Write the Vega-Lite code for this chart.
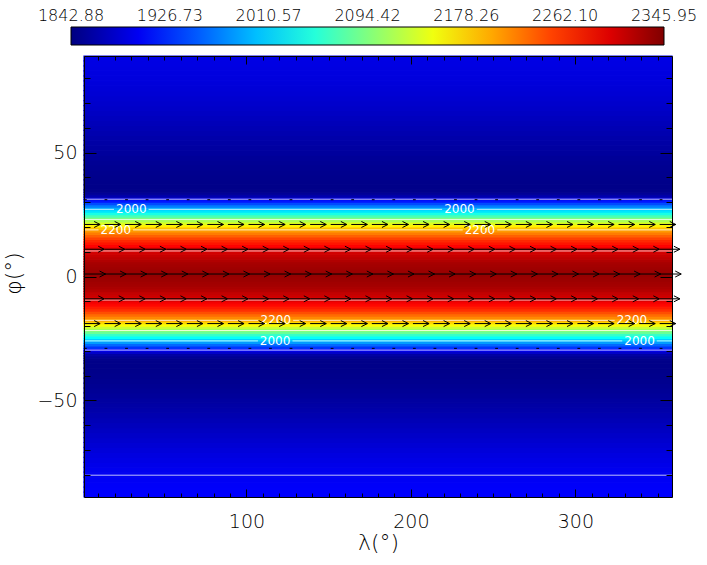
{
"$schema": "https://vega.github.io/schema/vega-lite/v6.json",
"width": 588, "height": 441,
"autosize": "none",
"padding": {"left": 84, "top": 56, "right": 35, "bottom": 68},
"background": "white",
"config": {
  "font": "DejaVu Sans",
  "view": {"stroke": null},
  "axis": {"tickColor": "#000", "domainColor": "#000", "labelColor": "#000", "titleColor": "#000", "labelFont": "DejaVu Sans", "titleFont": "DejaVu Sans", "labelFontWeight": 200, "titleFontWeight": 200, "grid": false, "zindex": 2, "tickWidth": 1, "domainWidth": 1},
  "legend": {"labelFont": "DejaVu Sans", "labelColor": "#000", "labelFontWeight": 200}
},
"datasets": {
"field": [
{"a":-89,"b":-87,"v":1905},{"a":-87,"b":-85,"v":1904},{"a":-85,"b":-83,"v":1903},{"a":-83,"b":-81,"v":1901.5},{"a":-81,"b":-79,"v":1900},{"a":-79,"b":-77,"v":1898},{"a":-77,"b":-75,"v":1895.5},{"a":-75,"b":-73,"v":1893},{"a":-73,"b":-71,"v":1890.5},{"a":-71,"b":-69,"v":1887.5},{"a":-69,"b":-67,"v":1884.5},{"a":-67,"b":-65,"v":1881.5},{"a":-65,"b":-63,"v":1878.5},{"a":-63,"b":-61,"v":1875.5},{"a":-61,"b":-59,"v":1872.5},{"a":-59,"b":-57,"v":1869.5},{"a":-57,"b":-55,"v":1866.5},{"a":-55,"b":-53,"v":1863.5},{"a":-53,"b":-51,"v":1861},{"a":-51,"b":-49,"v":1858.5},{"a":-49,"b":-47,"v":1856},{"a":-47,"b":-45,"v":1854},{"a":-45,"b":-43,"v":1852},{"a":-43,"b":-41,"v":1850.5},{"a":-41,"b":-39,"v":1849},{"a":-39,"b":-37,"v":1848},{"a":-37,"b":-35,"v":1847.5},
{"a":-35,"b":-34,"v":1847.5},{"a":-34,"b":-33,"v":1848},{"a":-33,"b":-32,"v":1852.3},{"a":-32,"b":-31,"v":1860.2},{"a":-31,"b":-30,"v":1878.6},{"a":-30,"b":-29,"v":1906.4},{"a":-29,"b":-28,"v":1932.1},{"a":-28,"b":-27,"v":1957.7},{"a":-27,"b":-26,"v":1983.3},{"a":-26,"b":-25,"v":2008.6},{"a":-25,"b":-24,"v":2033.3},{"a":-24,"b":-23,"v":2058.0},{"a":-23,"b":-22,"v":2082.7},{"a":-22,"b":-21,"v":2107.1},{"a":-21,"b":-20,"v":2130.6},{"a":-20,"b":-19,"v":2154.1},{"a":-19,"b":-18,"v":2177.6},{"a":-18,"b":-17,"v":2200.7},{"a":-17,"b":-16,"v":2215.3},{"a":-16,"b":-15,"v":2229.9},{"a":-15,"b":-14,"v":2244.5},{"a":-14,"b":-13,"v":2259.1},{"a":-13,"b":-12,"v":2269.4},{"a":-12,"b":-11,"v":2278.7},{"a":-11,"b":-10,"v":2288.0},{"a":-10,"b":-9,"v":2297.2},{"a":-9,"b":-8,"v":2303.7},{"a":-8,"b":-7,"v":2309.0},{"a":-7,"b":-6,"v":2314.3},{"a":-6,"b":-5,"v":2319.6},{"a":-5,"b":-4,"v":2324.9},{"a":-4,"b":-3,"v":2327.6},{"a":-3,"b":-2,"v":2329.6},{"a":-2,"b":-1,"v":2331.6},{"a":-1,"b":0,"v":2333.6},
{"a":0,"b":1,"v":2335.6},{"a":1,"b":2,"v":2334.4},{"a":2,"b":3,"v":2332.4},{"a":3,"b":4,"v":2330.4},{"a":4,"b":5,"v":2328.4},{"a":5,"b":6,"v":2326.4},{"a":6,"b":7,"v":2321.8},{"a":7,"b":8,"v":2316.4},{"a":8,"b":9,"v":2311.1},{"a":9,"b":10,"v":2305.8},{"a":10,"b":11,"v":2300.5},{"a":11,"b":12,"v":2291.7},{"a":12,"b":13,"v":2282.4},{"a":13,"b":14,"v":2273.1},{"a":14,"b":15,"v":2263.9},{"a":15,"b":16,"v":2250.3},{"a":16,"b":17,"v":2235.7},{"a":17,"b":18,"v":2221.2},{"a":18,"b":19,"v":2206.6},{"a":19,"b":20,"v":2187.1},{"a":20,"b":21,"v":2163.5},{"a":21,"b":22,"v":2140.0},{"a":22,"b":23,"v":2116.5},{"a":23,"b":24,"v":2092.6},{"a":24,"b":25,"v":2067.9},{"a":25,"b":26,"v":2043.2},{"a":26,"b":27,"v":2018.5},{"a":27,"b":28,"v":1993.6},{"a":28,"b":29,"v":1968.0},{"a":29,"b":30,"v":1942.3},{"a":30,"b":31,"v":1916.7},{"a":31,"b":32,"v":1890.0},{"a":32,"b":33,"v":1865.8},{"a":33,"b":34,"v":1854.4},{"a":34,"b":35,"v":1849.1},
{"a":35,"b":37,"v":1847.5},{"a":37,"b":39,"v":1848},{"a":39,"b":41,"v":1849},{"a":41,"b":43,"v":1850},{"a":43,"b":45,"v":1851.5},{"a":45,"b":47,"v":1853},{"a":47,"b":49,"v":1855},{"a":49,"b":51,"v":1857},{"a":51,"b":53,"v":1859},{"a":53,"b":55,"v":1861},{"a":55,"b":57,"v":1863.5},{"a":57,"b":59,"v":1866},{"a":59,"b":61,"v":1868.5},{"a":61,"b":63,"v":1871},{"a":63,"b":65,"v":1873.5},{"a":65,"b":67,"v":1876},{"a":67,"b":69,"v":1878.5},{"a":69,"b":71,"v":1880.5},{"a":71,"b":73,"v":1882.5},{"a":73,"b":75,"v":1884.5},{"a":75,"b":77,"v":1886},{"a":77,"b":79,"v":1887.5},{"a":79,"b":81,"v":1889},{"a":81,"b":83,"v":1890},{"a":83,"b":85,"v":1891},{"a":85,"b":87,"v":1892},{"a":87,"b":89,"v":1892.5}
],
"cont": [
{"lat":31.2,"a":1.25,"b":358.75},{"lat":-29.7,"a":1.25,"b":358.75},{"lat":-80.2,"a":1.25,"b":358.75},
{"lat":27.1,"a":1.25,"b":19.5},{"lat":27.1,"a":40.5,"b":219},{"lat":27.1,"a":240,"b":358.75},
{"lat":-26.0,"a":1.25,"b":107},{"lat":-26.0,"a":128,"b":328.5},{"lat":-26.0,"a":349.5,"b":358.75},
{"lat":23.0,"a":1.25,"b":358.75},{"lat":-21.8,"a":1.25,"b":358.75},
{"lat":18.8,"a":1.25,"b":10.1},{"lat":18.8,"a":31.1,"b":231.5},{"lat":18.8,"a":252.5,"b":358.75},
{"lat":-17.7,"a":1.25,"b":107.4},{"lat":-17.7,"a":128.4,"b":323.9},{"lat":-17.7,"a":344.9,"b":358.75},
{"lat":10.3,"a":1.25,"b":358.75},{"lat":-9.5,"a":1.25,"b":358.75}
],
"clab": [
{"lat":27.1,"lon":30,"t":"2000"},{"lat":27.1,"lon":229.5,"t":"2000"},
{"lat":18.8,"lon":20.6,"t":"2200"},{"lat":18.8,"lon":242,"t":"2200"},
{"lat":-17.7,"lon":117.9,"t":"2200"},{"lat":-17.7,"lon":334.4,"t":"2200"},
{"lat":-26.0,"lon":117.4,"t":"2000"},{"lat":-26.0,"lon":339,"t":"2000"}
],
"arrows": [
{"la":1,"x0":1.25,"x1":14.35},{"la":1,"x0":13.75,"x1":26.85},{"la":1,"x0":26.25,"x1":39.35},{"la":1,"x0":38.75,"x1":51.85},{"la":1,"x0":51.25,"x1":64.35},{"la":1,"x0":63.75,"x1":76.85},{"la":1,"x0":76.25,"x1":89.35},{"la":1,"x0":88.75,"x1":101.85},{"la":1,"x0":101.25,"x1":114.35},{"la":1,"x0":113.75,"x1":126.85},{"la":1,"x0":126.25,"x1":139.35},{"la":1,"x0":138.75,"x1":151.85},{"la":1,"x0":151.25,"x1":164.35},{"la":1,"x0":163.75,"x1":176.85},{"la":1,"x0":176.25,"x1":189.35},{"la":1,"x0":188.75,"x1":201.85},{"la":1,"x0":201.25,"x1":214.35},{"la":1,"x0":213.75,"x1":226.85},{"la":1,"x0":226.25,"x1":239.35},{"la":1,"x0":238.75,"x1":251.85},{"la":1,"x0":251.25,"x1":264.35},{"la":1,"x0":263.75,"x1":276.85},{"la":1,"x0":276.25,"x1":289.35},{"la":1,"x0":288.75,"x1":301.85},{"la":1,"x0":301.25,"x1":314.35},{"la":1,"x0":313.75,"x1":326.85},{"la":1,"x0":326.25,"x1":339.35},{"la":1,"x0":338.75,"x1":351.85},{"la":1,"x0":351.25,"x1":364.35},
{"la":11,"x0":1.25,"x1":13.55},{"la":11,"x0":13.75,"x1":26.05},{"la":11,"x0":26.25,"x1":38.55},{"la":11,"x0":38.75,"x1":51.05},{"la":11,"x0":51.25,"x1":63.55},{"la":11,"x0":63.75,"x1":76.05},{"la":11,"x0":76.25,"x1":88.55},{"la":11,"x0":88.75,"x1":101.05},{"la":11,"x0":101.25,"x1":113.55},{"la":11,"x0":113.75,"x1":126.05},{"la":11,"x0":126.25,"x1":138.55},{"la":11,"x0":138.75,"x1":151.05},{"la":11,"x0":151.25,"x1":163.55},{"la":11,"x0":163.75,"x1":176.05},{"la":11,"x0":176.25,"x1":188.55},{"la":11,"x0":188.75,"x1":201.05},{"la":11,"x0":201.25,"x1":213.55},{"la":11,"x0":213.75,"x1":226.05},{"la":11,"x0":226.25,"x1":238.55},{"la":11,"x0":238.75,"x1":251.05},{"la":11,"x0":251.25,"x1":263.55},{"la":11,"x0":263.75,"x1":276.05},{"la":11,"x0":276.25,"x1":288.55},{"la":11,"x0":288.75,"x1":301.05},{"la":11,"x0":301.25,"x1":313.55},{"la":11,"x0":313.75,"x1":326.05},{"la":11,"x0":326.25,"x1":338.55},{"la":11,"x0":338.75,"x1":351.05},{"la":11,"x0":351.25,"x1":363.55},
{"la":-9,"x0":1.25,"x1":13.55},{"la":-9,"x0":13.75,"x1":26.05},{"la":-9,"x0":26.25,"x1":38.55},{"la":-9,"x0":38.75,"x1":51.05},{"la":-9,"x0":51.25,"x1":63.55},{"la":-9,"x0":63.75,"x1":76.05},{"la":-9,"x0":76.25,"x1":88.55},{"la":-9,"x0":88.75,"x1":101.05},{"la":-9,"x0":101.25,"x1":113.55},{"la":-9,"x0":113.75,"x1":126.05},{"la":-9,"x0":126.25,"x1":138.55},{"la":-9,"x0":138.75,"x1":151.05},{"la":-9,"x0":151.25,"x1":163.55},{"la":-9,"x0":163.75,"x1":176.05},{"la":-9,"x0":176.25,"x1":188.55},{"la":-9,"x0":188.75,"x1":201.05},{"la":-9,"x0":201.25,"x1":213.55},{"la":-9,"x0":213.75,"x1":226.05},{"la":-9,"x0":226.25,"x1":238.55},{"la":-9,"x0":238.75,"x1":251.05},{"la":-9,"x0":251.25,"x1":263.55},{"la":-9,"x0":263.75,"x1":276.05},{"la":-9,"x0":276.25,"x1":288.55},{"la":-9,"x0":288.75,"x1":301.05},{"la":-9,"x0":301.25,"x1":313.55},{"la":-9,"x0":313.75,"x1":326.05},{"la":-9,"x0":326.25,"x1":338.55},{"la":-9,"x0":338.75,"x1":351.05},{"la":-9,"x0":351.25,"x1":363.55},
{"la":21,"x0":1.25,"x1":11.05},{"la":21,"x0":13.75,"x1":23.55},{"la":21,"x0":26.25,"x1":36.05},{"la":21,"x0":38.75,"x1":48.55},{"la":21,"x0":51.25,"x1":61.05},{"la":21,"x0":63.75,"x1":73.55},{"la":21,"x0":76.25,"x1":86.05},{"la":21,"x0":88.75,"x1":98.55},{"la":21,"x0":101.25,"x1":111.05},{"la":21,"x0":113.75,"x1":123.55},{"la":21,"x0":126.25,"x1":136.05},{"la":21,"x0":138.75,"x1":148.55},{"la":21,"x0":151.25,"x1":161.05},{"la":21,"x0":163.75,"x1":173.55},{"la":21,"x0":176.25,"x1":186.05},{"la":21,"x0":188.75,"x1":198.55},{"la":21,"x0":201.25,"x1":211.05},{"la":21,"x0":213.75,"x1":223.55},{"la":21,"x0":226.25,"x1":236.05},{"la":21,"x0":238.75,"x1":248.55},{"la":21,"x0":251.25,"x1":261.05},{"la":21,"x0":263.75,"x1":273.55},{"la":21,"x0":276.25,"x1":286.05},{"la":21,"x0":288.75,"x1":298.55},{"la":21,"x0":301.25,"x1":311.05},{"la":21,"x0":313.75,"x1":323.55},{"la":21,"x0":326.25,"x1":336.05},{"la":21,"x0":338.75,"x1":348.55},{"la":21,"x0":351.25,"x1":361.05},
{"la":-19,"x0":1.25,"x1":11.05},{"la":-19,"x0":13.75,"x1":23.55},{"la":-19,"x0":26.25,"x1":36.05},{"la":-19,"x0":38.75,"x1":48.55},{"la":-19,"x0":51.25,"x1":61.05},{"la":-19,"x0":63.75,"x1":73.55},{"la":-19,"x0":76.25,"x1":86.05},{"la":-19,"x0":88.75,"x1":98.55},{"la":-19,"x0":101.25,"x1":111.05},{"la":-19,"x0":113.75,"x1":123.55},{"la":-19,"x0":126.25,"x1":136.05},{"la":-19,"x0":138.75,"x1":148.55},{"la":-19,"x0":151.25,"x1":161.05},{"la":-19,"x0":163.75,"x1":173.55},{"la":-19,"x0":176.25,"x1":186.05},{"la":-19,"x0":188.75,"x1":198.55},{"la":-19,"x0":201.25,"x1":211.05},{"la":-19,"x0":213.75,"x1":223.55},{"la":-19,"x0":226.25,"x1":236.05},{"la":-19,"x0":238.75,"x1":248.55},{"la":-19,"x0":251.25,"x1":261.05},{"la":-19,"x0":263.75,"x1":273.55},{"la":-19,"x0":276.25,"x1":286.05},{"la":-19,"x0":288.75,"x1":298.55},{"la":-19,"x0":301.25,"x1":311.05},{"la":-19,"x0":313.75,"x1":323.55},{"la":-19,"x0":326.25,"x1":336.05},{"la":-19,"x0":338.75,"x1":348.55},{"la":-19,"x0":351.25,"x1":361.05},
{"la":31,"x0":1.25,"x1":2.95},{"la":31,"x0":13.75,"x1":15.45},{"la":31,"x0":26.25,"x1":27.95},{"la":31,"x0":38.75,"x1":40.45},{"la":31,"x0":51.25,"x1":52.95},{"la":31,"x0":63.75,"x1":65.45},{"la":31,"x0":76.25,"x1":77.95},{"la":31,"x0":88.75,"x1":90.45},{"la":31,"x0":101.25,"x1":102.95},{"la":31,"x0":113.75,"x1":115.45},{"la":31,"x0":126.25,"x1":127.95},{"la":31,"x0":138.75,"x1":140.45},{"la":31,"x0":151.25,"x1":152.95},{"la":31,"x0":163.75,"x1":165.45},{"la":31,"x0":176.25,"x1":177.95},{"la":31,"x0":188.75,"x1":190.45},{"la":31,"x0":201.25,"x1":202.95},{"la":31,"x0":213.75,"x1":215.45},{"la":31,"x0":226.25,"x1":227.95},{"la":31,"x0":238.75,"x1":240.45},{"la":31,"x0":251.25,"x1":252.95},{"la":31,"x0":263.75,"x1":265.45},{"la":31,"x0":276.25,"x1":277.95},{"la":31,"x0":288.75,"x1":290.45},{"la":31,"x0":301.25,"x1":302.95},{"la":31,"x0":313.75,"x1":315.45},{"la":31,"x0":326.25,"x1":327.95},{"la":31,"x0":338.75,"x1":340.45},{"la":31,"x0":351.25,"x1":352.95},
{"la":-29,"x0":1.25,"x1":2.95},{"la":-29,"x0":13.75,"x1":15.45},{"la":-29,"x0":26.25,"x1":27.95},{"la":-29,"x0":38.75,"x1":40.45},{"la":-29,"x0":51.25,"x1":52.95},{"la":-29,"x0":63.75,"x1":65.45},{"la":-29,"x0":76.25,"x1":77.95},{"la":-29,"x0":88.75,"x1":90.45},{"la":-29,"x0":101.25,"x1":102.95},{"la":-29,"x0":113.75,"x1":115.45},{"la":-29,"x0":126.25,"x1":127.95},{"la":-29,"x0":138.75,"x1":140.45},{"la":-29,"x0":151.25,"x1":152.95},{"la":-29,"x0":163.75,"x1":165.45},{"la":-29,"x0":176.25,"x1":177.95},{"la":-29,"x0":188.75,"x1":190.45},{"la":-29,"x0":201.25,"x1":202.95},{"la":-29,"x0":213.75,"x1":215.45},{"la":-29,"x0":226.25,"x1":227.95},{"la":-29,"x0":238.75,"x1":240.45},{"la":-29,"x0":251.25,"x1":252.95},{"la":-29,"x0":263.75,"x1":265.45},{"la":-29,"x0":276.25,"x1":277.95},{"la":-29,"x0":288.75,"x1":290.45},{"la":-29,"x0":301.25,"x1":302.95},{"la":-29,"x0":313.75,"x1":315.45},{"la":-29,"x0":326.25,"x1":327.95},{"la":-29,"x0":338.75,"x1":340.45},{"la":-29,"x0":351.25,"x1":352.95}
]
},
"layer": [
{
  "data": {"name": "field"},
  "mark": {"type": "rect", "strokeWidth": 1.2, "stroke": {"expr": "scale('fill', datum.v)"}},
  "encoding": {
    "x": {"datum": 1.25, "type": "quantitative", "scale": {"domain": [1.25, 358.75], "nice": false, "zero": false},
          "axis": {"orient": "bottom", "values": [10,20,30,40,50,60,70,80,90,110,120,130,140,150,160,170,180,190,210,220,230,240,250,260,270,280,290,310,320,330,340,350], "labels": false, "tickSize": -4, "domain": false, "title": null, "zindex": 2}},
    "x2": {"datum": 358.75},
    "y": {"field": "a", "type": "quantitative", "scale": {"domain": [-89, 89], "nice": false, "zero": false},
          "axis": {"orient": "left", "values": [-80,-70,-60,-40,-30,-20,-10,10,20,30,40,60,70,80], "labels": false, "tickSize": -6, "domain": false, "title": null, "zindex": 2}},
    "y2": {"field": "b"},
    "fill": {"field": "v", "type": "quantitative",
             "scale": {"domain": [1842.88, 1905.76, 2031.53, 2157.30, 2283.07, 2345.95], "range": ["#000080", "#0000ff", "#00ffff", "#ffff00", "#ff0000", "#800000"], "interpolate": "rgb"},
             "legend": {"type": "gradient", "orient": "none", "legendX": -13, "legendY": -29, "direction": "horizontal", "gradientLength": 593, "gradientThickness": 18, "title": null,
                        "values": [1842.88, 1926.73, 2010.57, 2094.42, 2178.26, 2262.10, 2345.95], "format": ".2f",
                        "labelFontSize": 16, "labelOffset": -24, "labelOverlap": false, "labelLimit": 300,
                        "gradientStrokeColor": "#000", "gradientStrokeWidth": 1, "padding": 0,
                        "encode": {"labels": {"update": {"align": {"value": "center"}, "baseline": {"value": "alphabetic"}}}}}}
  }
},
{
  "data": {"name": "cont"},
  "mark": {"type": "rule", "color": "white", "strokeWidth": 1, "opacity": 0.75},
  "encoding": {
    "x": {"field": "a", "type": "quantitative", "scale": {"domain": [1.25, 358.75], "nice": false, "zero": false},
          "axis": {"orient": "bottom", "values": [100, 200, 300], "tickSize": -8, "labelPadding": 23, "labelFontSize": 19, "domain": true, "zindex": 2,
                   "title": "λ(°)", "titleFontSize": 22, "titleBaseline": "alphabetic", "titleY": 52}},
    "x2": {"field": "b"},
    "y": {"field": "lat", "type": "quantitative", "scale": {"domain": [-89, 89], "nice": false, "zero": false},
          "axis": {"orient": "left", "values": [-50, 0, 50], "tickSize": -12, "labelPadding": 19, "labelFontSize": 19, "domain": true, "zindex": 2,
                   "title": "φ(°)", "titleFontSize": 22, "titleBaseline": "alphabetic", "titleAngle": -90, "titleX": -63.5, "titleY": 217, "titleAlign": "center"}}
  }
},
{
  "data": {"name": "clab"},
  "mark": {"type": "text", "color": "white", "fontSize": 12, "baseline": "middle", "align": "center"},
  "encoding": {
    "x": {"field": "lon", "type": "quantitative", "scale": {"domain": [1.25, 358.75], "nice": false, "zero": false},
          "axis": {"orient": "top", "values": [10,20,30,40,50,60,70,80,90,110,120,130,140,150,160,170,180,190,210,220,230,240,250,260,270,280,290,310,320,330,340,350], "labels": false, "tickSize": -4, "domain": false, "title": null, "zindex": 2}},
    "y": {"field": "lat", "type": "quantitative", "scale": {"domain": [-89, 89], "nice": false, "zero": false},
          "axis": {"orient": "right", "values": [-80,-70,-60,-40,-30,-20,-10,10,20,30,40,60,70,80], "labels": false, "tickSize": -6, "domain": false, "title": null, "zindex": 2}},
    "text": {"field": "t"}
  }
},
{
  "data": {"name": "arrows"},
  "mark": {"type": "rule", "color": "black", "strokeWidth": 1, "clip": false},
  "encoding": {
    "x": {"field": "x0", "type": "quantitative", "scale": {"domain": [1.25, 358.75], "nice": false, "zero": false},
          "axis": {"orient": "top", "values": [100, 200, 300], "labels": false, "tickSize": -8, "domain": true, "title": null, "zindex": 2}},
    "x2": {"field": "x1"},
    "y": {"field": "la", "type": "quantitative", "scale": {"domain": [-89, 89], "nice": false, "zero": false},
          "axis": {"orient": "right", "values": [-50, 0, 50], "labels": false, "tickSize": -12, "domain": true, "title": null, "zindex": 2}}
  }
},
{
  "data": {"name": "arrows"},
  "transform": [{"filter": "datum.x1 - datum.x0 > 5"}],
  "mark": {"type": "point", "shape": "M-2,-1L0,0L-2,1", "size": 36, "filled": false, "color": "black", "strokeWidth": 1, "opacity": 1, "clip": false},
  "encoding": {
    "x": {"field": "x1", "type": "quantitative", "scale": {"domain": [1.25, 358.75], "nice": false, "zero": false}, "axis": null},
    "y": {"field": "la", "type": "quantitative", "scale": {"domain": [-89, 89], "nice": false, "zero": false}, "axis": null}
  }
}
],
"resolve": {"axis": {"x": "independent", "y": "independent"}}
}
